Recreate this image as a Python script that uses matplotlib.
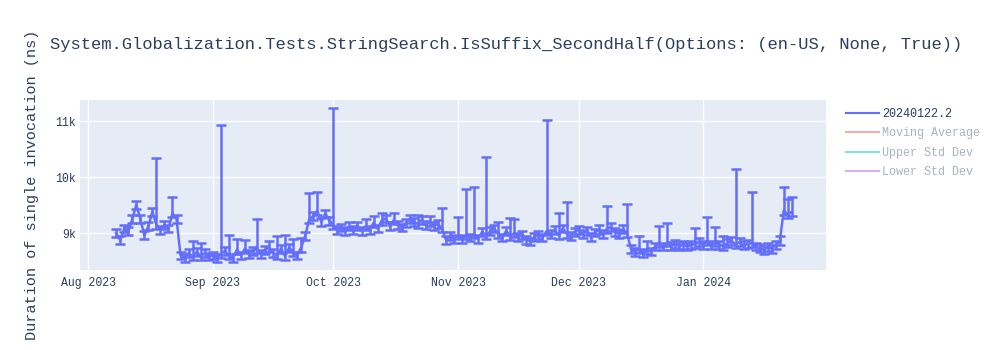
import matplotlib
matplotlib.use("Agg")
import matplotlib.pyplot as plt
import matplotlib.dates as mdates
from matplotlib.lines import Line2D
from matplotlib.ticker import FuncFormatter
import pandas as pd
import numpy as np

title = "System.Globalization.Tests.StringSearch.IsSuffix_SecondHalf(Options: (en-US, None, True))"
ylabel = "Duration of single invocation (ns)"
legend_labels = ["20240122.2", "Moving Average", "Upper Std Dev", "Lower Std Dev"]

start_date = "2023-08-08"
end_date = "2024-01-23"

values = [
    # Aug 8 - Aug 31
    9000, 8870, 9080, 9030, 9250, 9500, 9250, 8960, 9120, 9380, 9150, 9060,
    9150, 9080, 9350, 9250, 8600, 8560, 8640, 8580, 8660, 8590, 8640, 8580,
    # Sep
    8600, 8560, 8620, 8680, 8600, 8560, 8700, 8600, 8720, 8620,
    8680, 8720, 8620, 8700, 8740, 8640, 8600, 8720, 8580, 8740,
    8660, 8600, 8740, 8950, 9250, 9300, 9400, 9200, 9350, 9220,
    # Oct
    9150, 9050, 9100, 9030, 9120, 9050, 9130, 9040, 9120, 9060,
    9180, 9080, 9220, 9260, 9120, 9230, 9150, 9100, 9180, 9250,
    9200, 9160, 9240, 9140, 9200, 9130, 9160, 9080, 8880, 8940, 8900,
    # Nov
    8960, 8900, 8960, 8920, 8980, 8900, 9020, 8960, 9030, 9080,
    8980, 8920, 9040, 8940, 9000, 8930, 8960, 8880, 8850, 8930,
    8970, 8920, 9030, 8980, 9060, 8960, 9080, 8990, 8940, 9020,
    # Dec
    9060, 8980, 9040, 8930, 9010, 9060, 8980, 9070, 9110, 9020,
    8990, 9070, 9000, 8720, 8660, 8720, 8640, 8690, 8670, 8760,
    8820, 8760, 8830, 8770, 8800, 8770, 8790, 8760, 8780, 8810, 8840,
    # Jan
    8790, 8860, 8780, 8840, 8790, 8770, 8820, 8860, 8800, 8840,
    8780, 8800, 8820, 8760, 8730, 8700, 8750, 8720, 8790, 8850,
    9400, 9330, 9380,
]

base_err = 70

# upper ends of the tall error bars
spike_tops = {
    "2023-08-18": 10340, "2023-08-22": 9640, "2023-08-27": 8850, "2023-08-29": 8830,
    "2023-09-03": 10930, "2023-09-05": 8960, "2023-09-07": 8900, "2023-09-09": 8880,
    "2023-09-12": 9250, "2023-09-15": 8850, "2023-09-17": 8950, "2023-09-19": 8960,
    "2023-09-21": 8900, "2023-09-23": 8920, "2023-09-25": 9720, "2023-09-27": 9740,
    "2023-10-01": 11230, "2023-10-05": 9200, "2023-10-07": 9200, "2023-10-09": 9250,
    "2023-10-11": 9300, "2023-10-13": 9350, "2023-10-16": 9350, "2023-10-20": 9300,
    "2023-10-22": 9320, "2023-10-25": 9300, "2023-10-28": 9450,
    "2023-11-01": 9280, "2023-11-03": 9780, "2023-11-05": 9820, "2023-11-08": 10350,
    "2023-11-11": 9200, "2023-11-14": 9270, "2023-11-15": 9250, "2023-11-23": 11020,
    "2023-11-26": 9350, "2023-11-28": 9550,
    "2023-12-06": 9150, "2023-12-08": 9480, "2023-12-13": 9520, "2023-12-16": 8950,
    "2023-12-18": 8850, "2023-12-21": 9120, "2023-12-23": 9180, "2023-12-30": 9090,
    "2024-01-02": 9290, "2024-01-04": 9100, "2024-01-06": 8950, "2024-01-09": 10140,
    "2024-01-13": 9740, "2024-01-20": 8950, "2024-01-21": 9820, "2024-01-22": 9600,
    "2024-01-23": 9650,
}

dates = pd.date_range(start_date, end_date, freq="D")
vals = np.array(values, dtype=float)
n = min(len(dates), len(vals))
dates = dates[:n]
vals = vals[:n]
err_up = np.full(n, float(base_err))
err_dn = np.full(n, float(base_err))
for i, d in enumerate(dates):
    key = d.strftime("%Y-%m-%d")
    if key in spike_tops:
        err_up[i] = max(spike_tops[key] - vals[i], base_err)

FONT = ["Liberation Mono", "DejaVu Sans Mono"]
plt.rcParams["font.family"] = FONT
TXT = "#2a3f5f"
BLUE = "#636efa"

fig = plt.figure(figsize=(10, 3.5), dpi=100)
ax = fig.add_axes([0.080, 1 - 270 / 350, 0.746, 170 / 350])
ax.set_facecolor("#e5ecf6")
for s in ax.spines.values():
    s.set_visible(False)

ax.errorbar(dates, vals, yerr=[err_dn, err_up], color=BLUE, ecolor=BLUE,
            lw=1.8, elinewidth=1.8, capsize=3.6, capthick=1.8, zorder=3)

ax.set_xlim(pd.Timestamp("2023-07-30"), pd.Timestamp("2024-01-31 12:00"))
ax.set_ylim(8340, 11375)
ax.set_yticks([9000, 10000, 11000])
ax.yaxis.set_major_formatter(FuncFormatter(lambda v, p: f"{int(v/1000)}k"))
ax.xaxis.set_major_locator(mdates.MonthLocator())
ax.xaxis.set_major_formatter(mdates.DateFormatter("%b %Y"))
ax.grid(True, color="white", lw=1.0, zorder=0)
ax.set_axisbelow(True)
ax.tick_params(axis="both", length=0, labelsize=8.3, colors=TXT)
ax.tick_params(axis="y", pad=3)
ax.tick_params(axis="x", pad=5)

fig.text(0.050, 1 - 45 / 350, title, fontsize=12.3, color=TXT, va="center", ha="left")
fig.text(0.032, 1 - 185 / 350, ylabel, fontsize=11.0, color=TXT, rotation=90,
         va="center", ha="center")

handles = [
    Line2D([], [], color=BLUE, lw=1.5),
    Line2D([], [], color="#f7aa9d", lw=1.5),
    Line2D([], [], color="#80e5cb", lw=1.5),
    Line2D([], [], color="#d5b1fc", lw=1.5),
]
leg = fig.legend(handles, legend_labels, loc="upper left",
                 bbox_to_anchor=(0.846, 1 - 108 / 350), frameon=False,
                 fontsize=8.5, handlelength=2.8, handletextpad=0.25,
                 labelspacing=0.62, borderaxespad=0, borderpad=0)
for i, t in enumerate(leg.get_texts()):
    t.set_color(TXT if i == 0 else "#a9b3c2")

fig.savefig("out.png", dpi=100)
